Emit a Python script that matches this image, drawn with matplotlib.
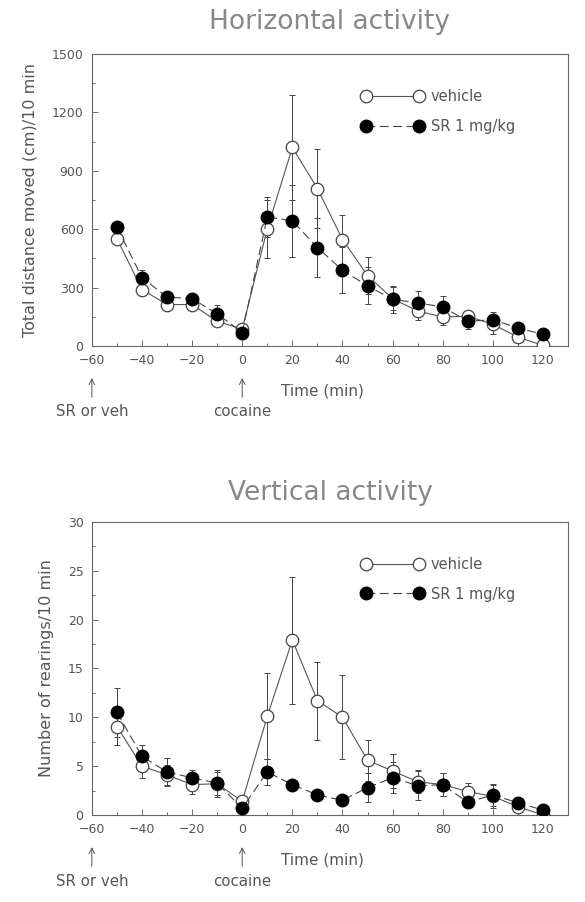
import numpy as np
import matplotlib.pyplot as plt
from matplotlib.ticker import MultipleLocator

# === Data ===
time = [-50, -40, -30, -20, -10, 0, 10, 20, 30, 40, 50, 60, 70, 80, 90, 100, 110, 120]

horiz_vehicle = [552, 290, 213, 213, 127, 87, 602, 1020, 809, 547, 362, 243, 180, 149, 153, 111, 46, 3]
horiz_vehicle_err = [30, 25, 20, 20, 20, 15, 150, 270, 205, 128, 95, 60, 45, 40, 25, 50, 15, 10]
horiz_sr = [612, 351, 252, 243, 166, 69, 663, 643, 506, 389, 309, 240, 221, 201, 127, 135, 93, 60]
horiz_sr_err = [20, 40, 20, 25, 45, 15, 105, 185, 150, 118, 95, 70, 60, 55, 40, 40, 20, 15]

vert_vehicle = [9.05, 5.0, 4.1, 3.1, 3.2, 1.4, 10.1, 17.9, 11.7, 10.0, 5.6, 4.5, 3.4, 3.1, 2.4, 1.9, 0.85, 0.0]
vert_vehicle_err = [1.9, 1.2, 1.0, 1.0, 1.2, 0.3, 4.4, 6.5, 4.0, 4.3, 2.1, 1.7, 1.2, 1.2, 0.9, 1.2, 0.4, 0.2]
vert_sr = [10.5, 6.0, 4.4, 3.8, 3.25, 0.7, 4.4, 3.1, 2.05, 1.5, 2.8, 3.8, 3.0, 3.1, 1.3, 2.05, 1.25, 0.5]
vert_sr_err = [2.5, 1.2, 1.4, 0.8, 1.4, 0.3, 1.3, 0.4, 0.4, 0.4, 1.5, 1.6, 1.5, 1.2, 0.4, 1.1, 0.4, 0.2]

grey = "#555555"

plt.rcParams["font.family"] = ["DejaVu Sans"]

fig = plt.figure(figsize=(5.85, 9.02), dpi=100)
ax1 = fig.add_axes([0.157, 0.6164, 0.814, 0.3237])
ax2 = fig.add_axes([0.157, 0.0965, 0.814, 0.325])


def draw_panel(ax, veh, veh_err, sr, sr_err, ymax, ymajor, yminor, ylabel, title, tpad):
    # error bars first, then the lines with markers on top
    ax.errorbar(time, veh, yerr=veh_err, fmt="none", ecolor="#444444",
                elinewidth=0.7, capsize=2, capthick=0.7, zorder=2)
    ax.errorbar(time, sr, yerr=sr_err, fmt="none", ecolor="#444444",
                elinewidth=0.7, capsize=2, capthick=0.7, zorder=2)
    ax.plot(time, veh, color="#555555", lw=0.8, marker="o", markersize=9,
            markerfacecolor="white", markeredgecolor="#444444", markeredgewidth=0.9,
            label="vehicle", zorder=3)
    ax.plot(time, sr, color="#444444", lw=0.8, marker="o", markersize=9,
            linestyle=(0, (8, 4)), markerfacecolor="black", markeredgecolor="black",
            label="SR 1 mg/kg", zorder=4)

    ax.set_xlim(-60, 130)
    ax.set_ylim(0, ymax)
    ax.set_xticks(np.arange(-60, 121, 20))
    ax.xaxis.set_minor_locator(MultipleLocator(10))
    ax.yaxis.set_major_locator(MultipleLocator(ymajor))
    ax.yaxis.set_minor_locator(MultipleLocator(yminor))
    ax.tick_params(which="both", direction="in", colors=grey, labelsize=9,
                   labelcolor=grey, top=False, right=False, pad=6)
    ax.tick_params(which="major", length=4, width=0.6)
    ax.tick_params(which="minor", length=2.5, width=0.6)
    ax.xaxis.set_major_formatter(plt.FuncFormatter(lambda v, p: f"{int(v)}".replace("-", "\u2212")))
    for s in ax.spines.values():
        s.set_color("#666666")
        s.set_linewidth(0.8)

    ax.set_ylabel(ylabel, color=grey, fontsize=11.5, labelpad=10)
    ax.set_xlabel("Time (min)", color=grey, fontsize=11)
    ax.xaxis.set_label_coords(0.485, -0.128)
    ax.set_title(title, color="#888888", fontsize=19, pad=tpad)

    leg = ax.legend(loc="upper left", bbox_to_anchor=(0.54, 0.925), frameon=False,
                    numpoints=2, handlelength=4.2, fontsize=10.5, labelspacing=1.0,
                    handletextpad=0.5)
    for t in leg.get_texts():
        t.set_color(grey)

    # dosing arrows below the axis
    for xv, txt in [(-60, "SR or veh"), (0, "cocaine")]:
        ax.annotate(txt, xy=(xv, 0), xycoords=("data", "axes fraction"),
                    xytext=(xv, -0.2), textcoords=("data", "axes fraction"),
                    ha="center", va="top", color=grey, fontsize=10.8,
                    annotation_clip=False)
        ax.annotate("", xy=(xv, -0.1), xycoords=("data", "axes fraction"),
                    xytext=(xv, -0.185), textcoords=("data", "axes fraction"),
                    arrowprops=dict(arrowstyle="->", color=grey, lw=0.7),
                    annotation_clip=False)


draw_panel(ax1, horiz_vehicle, horiz_vehicle_err, horiz_sr, horiz_sr_err,
           1500, 300, 150, "Total distance moved (cm)/10 min", "Horizontal activity", 18)
draw_panel(ax2, vert_vehicle, vert_vehicle_err, vert_sr, vert_sr_err,
           30, 5, 2.5, "Number of rearings/10 min", "Vertical activity", 16)

fig.savefig("out.png", dpi=100)
